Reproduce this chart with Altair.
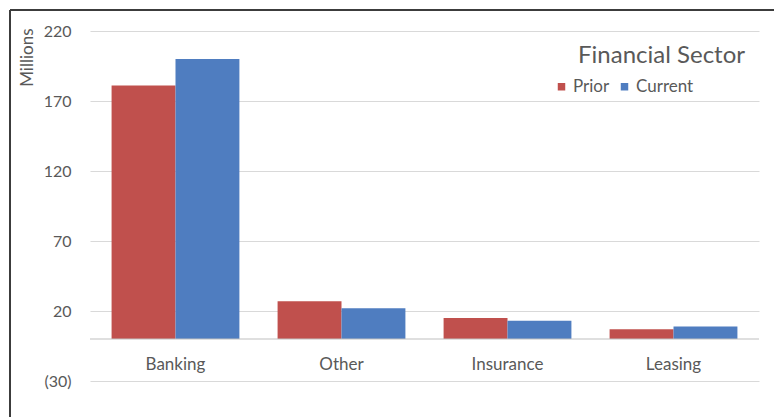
import altair as alt
import pandas as pd

categories = ["Banking", "Other", "Insurance", "Leasing"]
series = ["Prior", "Current"]
prior = [181, 27, 15, 7]
current = [200, 22, 13, 9]
y_ticks = [-30, 20, 70, 120, 170, 220]

rows = []
for c, p, cu in zip(categories, prior, current):
    rows.append({"Sector": c, "Series": "Prior", "Value": p})
    rows.append({"Sector": c, "Series": "Current", "Value": cu})
df = pd.DataFrame(rows)
one = pd.DataFrame({"z": [0]})

FONT = "Lato"
GREY = "#595959"
W, H = 669, 350
PAD_L, PAD_T = 90, 31

bars = alt.Chart(df).mark_bar().encode(
    x=alt.X(
        "Sector:N", sort=categories,
        scale=alt.Scale(paddingInner=0.23, paddingOuter=0.13),
        axis=alt.Axis(title=None, domain=False, ticks=False, labelAngle=0,
                      labelPadding=16, offset=-41, labelFontSize=17,
                      labelColor=GREY, labelFont=FONT),
    ),
    xOffset=alt.XOffset("Series:N", sort=series,
                        scale=alt.Scale(paddingInner=0, paddingOuter=0)),
    y=alt.Y(
        "Value:Q",
        scale=alt.Scale(domain=[-30, 220], nice=False, zero=False),
        axis=alt.Axis(values=y_ticks, domain=False, ticks=False,
                      gridColor="#d9d9d9", gridWidth=1,
                      labelExpr="datum.value < 0 ? '(' + abs(datum.value) + ')' : datum.label",
                      labelPadding=19, labelFontSize=16, labelColor=GREY, labelFont=FONT,
                      title="Millions", titleFont=FONT, titleFontSize=17,
                      titleFontWeight="normal", titleColor=GREY,
                      titleAngle=-90, titleAlign="right", titleBaseline="middle",
                      titleX=-63, titleY=-3),
    ),
    color=alt.Color(
        "Series:N", sort=series,
        scale=alt.Scale(domain=series, range=["#C0504D", "#4F7DC0"]),
        legend=alt.Legend(title=None, orient="none", legendX=463, legendY=47,
                          direction="horizontal", symbolType="square",
                          symbolSize=56, symbolStrokeWidth=0,
                          labelFontSize=17, labelFont=FONT, labelColor=GREY,
                          columnPadding=6, labelOffset=3),
    ),
)

zero = alt.Chart(one).mark_rule(color="#bfbfbf", strokeWidth=1.2).encode(y="z:Q")

frame_top = alt.Chart(one).mark_rule(color="#3c3c3c", strokeWidth=2).encode(
    x=alt.value(-PAD_L + 10), x2=alt.value(774 - PAD_L), y=alt.value(-PAD_T + 10)
)
frame_left = alt.Chart(one).mark_rule(color="#3c3c3c", strokeWidth=2).encode(
    x=alt.value(-PAD_L + 10), y=alt.value(-PAD_T + 10), y2=alt.value(417 - PAD_T)
)

chart = alt.layer(bars, zero, frame_top, frame_left).properties(
    width=W, height=H,
    padding={"left": PAD_L, "top": PAD_T, "right": 774 - PAD_L - W, "bottom": 417 - PAD_T - H},
    autosize=alt.AutoSizeParams(type="none"),
    background="white",
    title=alt.TitleParams("Financial Sector", anchor="end", orient="top", frame="group",
                          fontSize=24, font=FONT, color=GREY, fontWeight="normal",
                          baseline="middle", offset=0, dx=-14, dy=71),
).configure_view(stroke=None)

chart.save("out.html", embed_options={"renderer": "svg", "actions": False})
